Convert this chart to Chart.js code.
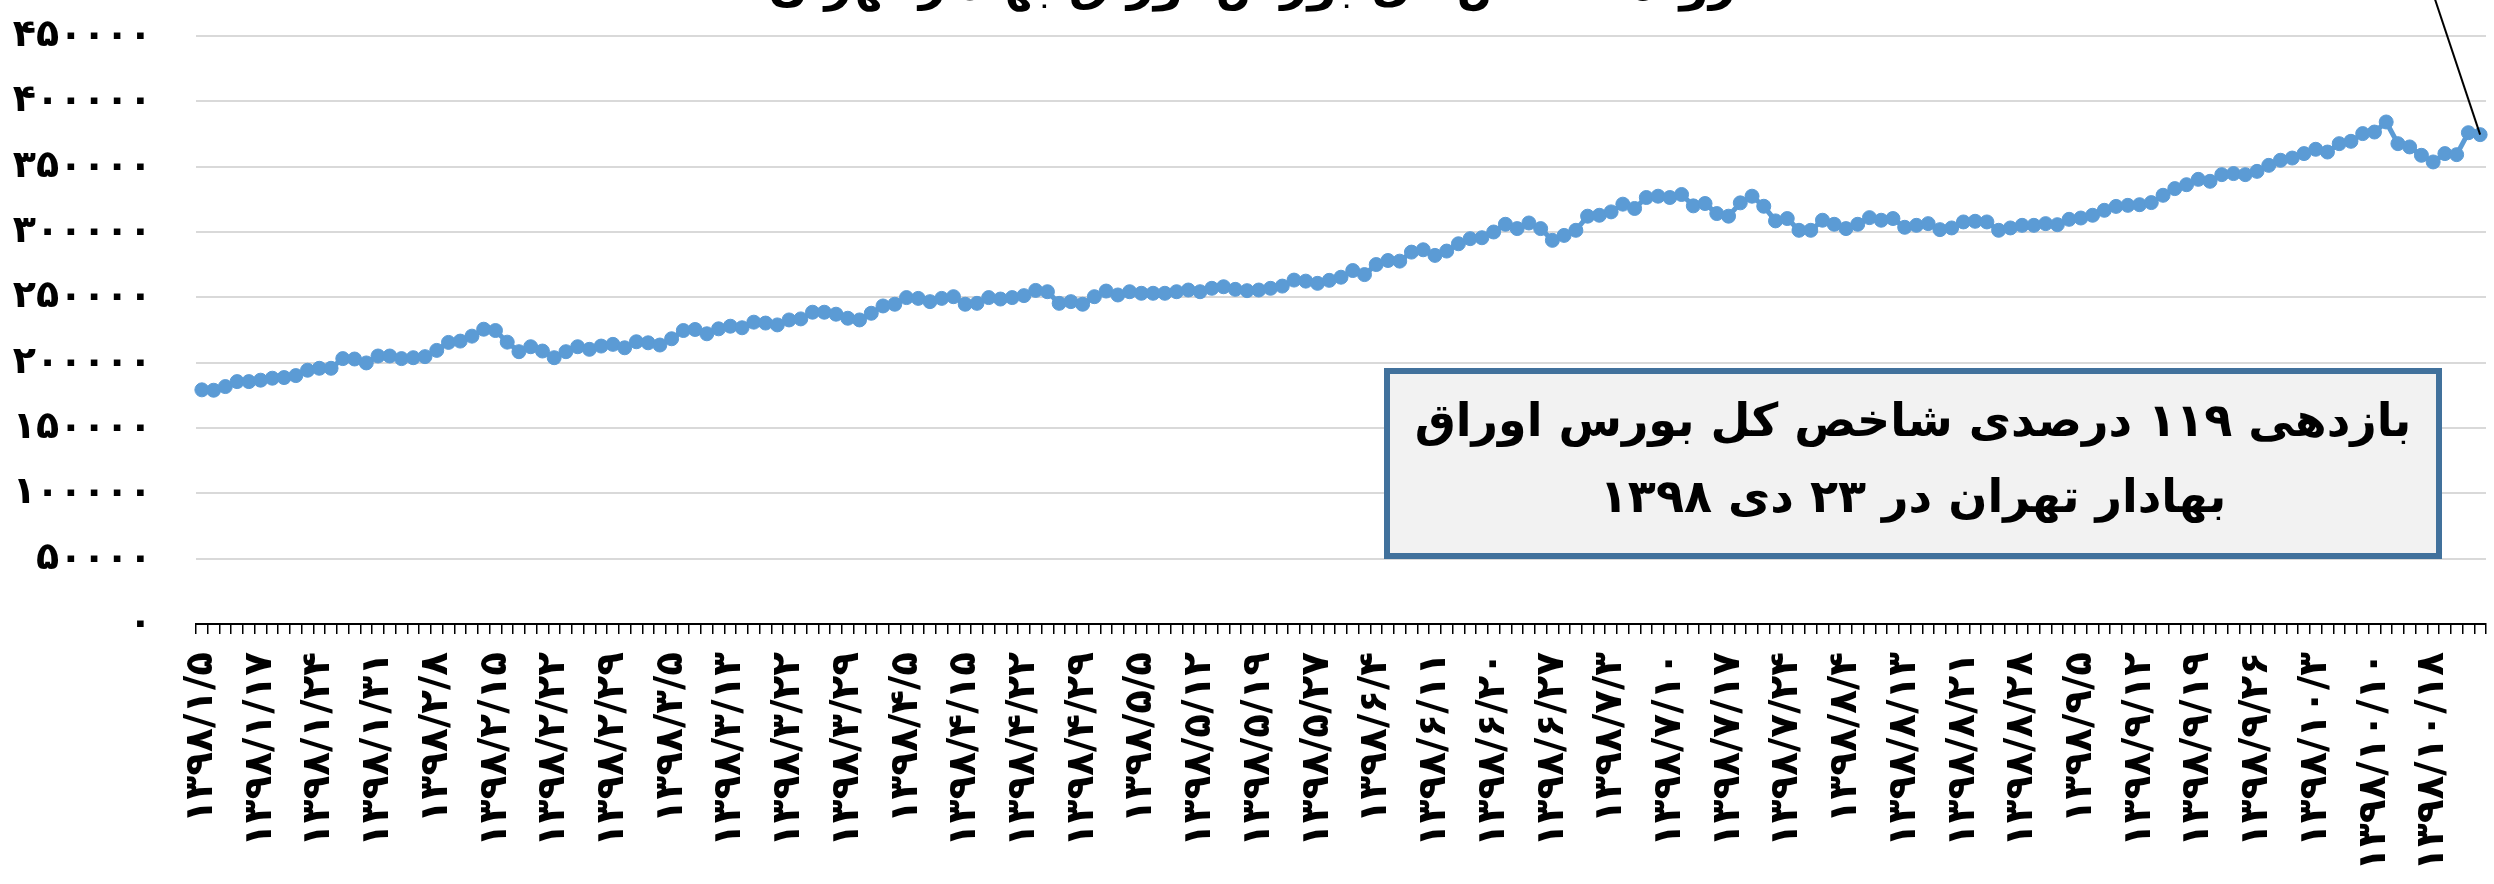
<!DOCTYPE html>
<html lang="fa">
<head>
<meta charset="utf-8">
<title>شاخص کل بورس تهران</title>
<script src="https://cdn.jsdelivr.net/npm/chart.js@4.4.1/dist/chart.umd.min.js"></script>
<style>
  html, body { margin: 0; padding: 0; background: #fff; overflow: hidden; }
  #wrap { width: 2494px; height: 884px; position: relative; }
</style>
</head>
<body>
<div id="wrap"><canvas id="chart" width="2494" height="884"></canvas></div>
<script>
// labels shown under every 5th trading day
var tickLabels = [
  '۱۳۹۸/۱/۵', '۱۳۹۸/۱/۱۷', '۱۳۹۸/۱/۲۴', '۱۳۹۸/۱/۳۱', '۱۳۹۸/۲/۸', '۱۳۹۸/۲/۱۵', '۱۳۹۸/۲/۲۲', '۱۳۹۸/۲/۲۹',
  '۱۳۹۸/۳/۵', '۱۳۹۸/۳/۱۳', '۱۳۹۸/۳/۲۲', '۱۳۹۸/۳/۲۹', '۱۳۹۸/۴/۵', '۱۳۹۸/۴/۱۵', '۱۳۹۸/۴/۲۲', '۱۳۹۸/۴/۲۹',
  '۱۳۹۸/۵/۵', '۱۳۹۸/۵/۱۲', '۱۳۹۸/۵/۱۹', '۱۳۹۸/۵/۲۷', '۱۳۹۸/۶/۴', '۱۳۹۸/۶/۱۱', '۱۳۹۸/۶/۲۰', '۱۳۹۸/۶/۲۷',
  '۱۳۹۸/۷/۳', '۱۳۹۸/۷/۱۰', '۱۳۹۸/۷/۱۷', '۱۳۹۸/۷/۲۴', '۱۳۹۸/۸/۴', '۱۳۹۸/۸/۱۳', '۱۳۹۸/۸/۲۱', '۱۳۹۸/۸/۲۸',
  '۱۳۹۸/۹/۵', '۱۳۹۸/۹/۱۲', '۱۳۹۸/۹/۱۹', '۱۳۹۸/۹/۲۶', '۱۳۹۸/۱۰/۳', '۱۳۹۸/۱۰/۱۰', '۱۳۹۸/۱۰/۱۸'
];
var labelEvery = 5;

// daily value of the TEDPIX index
var indexValues = [
  179200, 178900, 181700, 185500, 185500, 186600, 188100, 188600, 190100, 194200,
  195700, 195700, 203100, 202800, 199800, 205100, 205100, 203100, 203800, 204600,
  209400, 215500, 216500, 220300, 225600, 224600, 215700, 208400, 212200, 208900,
  203800, 208400, 212200, 210200, 212700, 214000, 211400, 216000, 215200, 213500,
  218300, 224600, 225400, 222100, 225900, 227900, 226700, 231000, 230300, 228900,
  232700, 233500, 238600, 238600, 237100, 234000, 232700, 237800, 243400, 244700,
  249800, 249200, 246700, 249200, 250500, 244700, 245400, 249800, 248700, 249800,
  251300, 255300, 254300, 245400, 246700, 244700, 250500, 254800, 251800, 254300,
  253100, 253100, 253100, 254300, 255600, 254300, 256900, 258100, 256100, 255100,
  255600, 256900, 258600, 263200, 262400, 260700, 263000, 265400, 270500, 267400,
  275100, 278200, 277700, 284600, 286400, 282100, 285400, 291000, 294900, 295600,
  300000, 305900, 302600, 306900, 302600, 293600, 297400, 301300, 312100, 312800,
  315400, 321300, 318000, 326400, 327400, 326400, 328700, 320000, 321800, 314100,
  312100, 322300, 327400, 319700, 308500, 310300, 301300, 301300, 309000, 305900,
  302600, 305900, 311000, 309000, 310300, 303600, 305100, 306400, 301800, 303100,
  307700, 308200, 307700, 301300, 303100, 305100, 305100, 306400, 305600, 309700,
  310700, 312800, 316600, 319600, 320400, 320900, 322500, 328100, 333200, 336200,
  340300, 338800, 343900, 344700, 343900, 346400, 351000, 354900, 356600, 360000,
  363300, 361200, 367600, 369400, 375300, 376500, 384200, 367600, 365100, 358700,
  353600, 360000, 359200, 376000, 374500
];

var yMin = 0;
var yMax = 450000;
var yStep = 50000;

var titleText = 'روند شاخص کل بورس اوراق بهادار تهران';
var boxLines = ['بازدهی ۱۱۹ درصدی شاخص کل بورس اوراق', 'بهادار تهران در ۲۳ دی ۱۳۹۸'];

var FONT = '"DejaVu Sans", sans-serif';

function fa(n) {
  return String(n).replace(/\d/g, function (d) { return '۰۱۲۳۴۵۶۷۸۹'[d]; });
}

var categories = indexValues.map(function (v, i) {
  return i % labelEvery === 0 ? tickLabels[i / labelEvery] : '';
});

// title (cut by the top edge), leader line and the text box
var overlay = {
  id: 'overlay',
  afterDraw: function (chart) {
    var ctx = chart.ctx;
    ctx.save();
    ctx.direction = 'rtl';
    ctx.textAlign = 'center';
    ctx.fillStyle = '#000';

    ctx.font = 'bold 47px ' + FONT;
    ctx.textBaseline = 'alphabetic';
    ctx.fillText(titleText, 1252, 0);

    var meta = chart.getDatasetMeta(0);
    var last = meta.data[meta.data.length - 1];
    ctx.strokeStyle = '#000';
    ctx.lineWidth = 2;
    ctx.beginPath();
    ctx.moveTo(last.x, last.y);
    ctx.lineTo(last.x - (last.y + 10) / 3, -10);
    ctx.stroke();

    var bx = 1384, by = 368, bw = 1058, bh = 191;
    ctx.fillStyle = '#f2f2f2';
    ctx.fillRect(bx, by, bw, bh);
    ctx.lineWidth = 6;
    ctx.strokeStyle = '#41719c';
    ctx.strokeRect(bx + 3, by + 3, bw - 6, bh - 6);

    ctx.fillStyle = '#000';
    ctx.font = 'bold 46px ' + FONT;
    ctx.textBaseline = 'middle';
    ctx.fillText(boxLines[0], bx + bw / 2, by + 56);
    ctx.fillText(boxLines[1], bx + bw / 2, by + 132);
    ctx.restore();
  }
};

new Chart(document.getElementById('chart'), {
  type: 'line',
  data: {
    labels: categories,
    datasets: [{
      data: indexValues,
      borderColor: '#5b9bd5',
      backgroundColor: '#5b9bd5',
      borderWidth: 5,
      pointRadius: 7,
      pointBorderWidth: 1,
      pointBorderColor: '#5b9bd5',
      pointBackgroundColor: '#5b9bd5',
      tension: 0
    }]
  },
  options: {
    responsive: false,
    animation: false,
    devicePixelRatio: 1,
    layout: { padding: { top: 36, right: 0, bottom: 0, left: 0 } },
    plugins: {
      legend: { display: false },
      tooltip: { enabled: false },
      title: { display: false }
    },
    scales: {
      x: {
        type: 'category',
        offset: true,
        grid: { offset: true, drawOnChartArea: false, drawTicks: true, tickLength: 10, color: '#000', lineWidth: 1.5 },
        border: { display: true, color: '#000', width: 2 },
        ticks: {
          autoSkip: false,
          minRotation: 90,
          maxRotation: 90,
          padding: 18,
          color: '#000',
          font: { family: FONT, size: 39, weight: 'bold' }
        },
        afterFit: function (scale) {
          scale.height = 260;
          scale.paddingLeft = 0;
          scale.paddingRight = 0;
        }
      },
      y: {
        min: yMin,
        max: yMax,
        ticks: {
          stepSize: yStep,
          padding: 44,
          color: '#000',
          font: { family: FONT, size: 38, weight: 'bold' },
          callback: function (v) { return fa(v); }
        },
        grid: { color: '#d9d9d9', lineWidth: 2, drawTicks: false },
        border: { display: false },
        afterFit: function (scale) {
          scale.width = 196;
          scale.paddingTop = 0;
          scale.paddingBottom = 0;
        }
      }
    }
  },
  plugins: [overlay]
});
</script>
</body>
</html>
